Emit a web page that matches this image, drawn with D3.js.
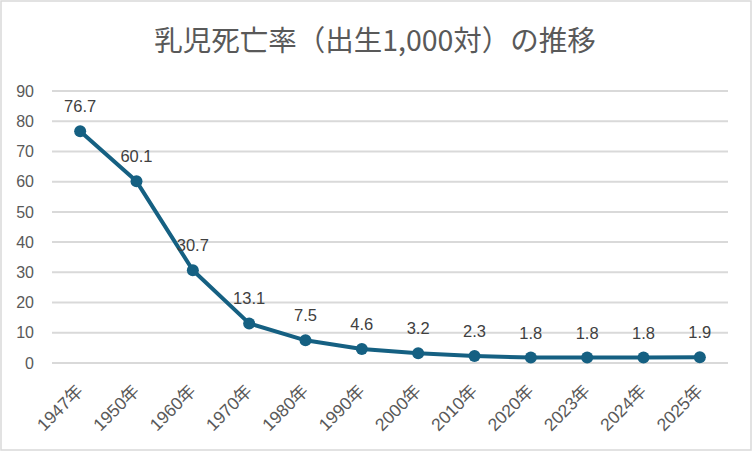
<!DOCTYPE html>
<html>
<head>
<meta charset="utf-8">
<script src="https://cdn.jsdelivr.net/npm/d3@7"></script>
<style>
  body { margin: 0; background: #fff; }
  svg { display: block; }
</style>
</head>
<body>
<div id="chart"></div>
<script>
// data
const years = ["1947年", "1950年", "1960年", "1970年", "1980年", "1990年",
  "2000年", "2010年", "2020年", "2023年", "2024年", "2025年"];
const rates = [76.7, 60.1, 30.7, 13.1, 7.5, 4.6, 3.2, 2.3, 1.8, 1.8, 1.8, 1.9];
const yTicks = [0, 10, 20, 30, 40, 50, 60, 70, 80, 90];
const title = "乳児死亡率（出生1,000対）の推移";

const width = 752;
const height = 451;
const margin = { top: 91, right: 24, bottom: 88, left: 52 };
const font = "'Liberation Sans', 'Noto Sans CJK JP', sans-serif";

const svg = d3.select("#chart")
  .append("svg")
  .attr("width", width)
  .attr("height", height);

// outer border
svg.append("rect")
  .attr("x", 1).attr("y", 1)
  .attr("width", width - 2).attr("height", height - 2)
  .attr("fill", "#fff")
  .attr("stroke", "#d9d9d9")
  .attr("stroke-width", 1.5);

const x = d3.scaleBand()
  .domain(years)
  .range([margin.left, width - margin.right]);

const y = d3.scaleLinear()
  .domain([0, 90])
  .range([height - margin.bottom, margin.top]);

// gridlines
svg.append("g")
  .selectAll("line")
  .data(yTicks)
  .enter()
  .append("line")
  .attr("x1", margin.left)
  .attr("x2", width - margin.right)
  .attr("y1", d => y(d))
  .attr("y2", d => y(d))
  .attr("stroke", "#d9d9d9")
  .attr("stroke-width", 2);

// y axis labels
const yAxis = svg.append("g")
  .attr("transform", `translate(${margin.left - 18},0)`)
  .call(d3.axisLeft(y).tickValues(yTicks).tickSize(0).tickPadding(0));
yAxis.select(".domain").remove();
yAxis.selectAll("text")
  .attr("fill", "#595959")
  .style("font-family", font)
  .style("font-size", "16px");

// x axis labels
const xAxis = svg.append("g")
  .attr("transform", `translate(0,${height - margin.bottom})`)
  .call(d3.axisBottom(x).tickSize(0).tickPadding(0));
xAxis.select(".domain").remove();
xAxis.selectAll("text")
  .attr("fill", "#595959")
  .attr("text-anchor", "end")
  .attr("dy", "0")
  .attr("transform", "translate(4,29) rotate(-45)")
  .style("font-family", font)
  .style("font-size", "17.5px");

const cx = d => x(d) + x.bandwidth() / 2;

// line
const line = d3.line()
  .x((d, i) => cx(years[i]))
  .y(d => y(d));

svg.append("path")
  .datum(rates)
  .attr("d", line)
  .attr("fill", "none")
  .attr("stroke", "#156082")
  .attr("stroke-width", 4)
  .attr("stroke-linejoin", "round");

// markers
svg.append("g")
  .selectAll("circle")
  .data(rates)
  .enter()
  .append("circle")
  .attr("cx", (d, i) => cx(years[i]))
  .attr("cy", d => y(d))
  .attr("r", 6)
  .attr("fill", "#156082");

// data labels
svg.append("g")
  .selectAll("text")
  .data(rates)
  .enter()
  .append("text")
  .attr("x", (d, i) => cx(years[i]))
  .attr("y", d => y(d) - 19)
  .attr("text-anchor", "middle")
  .attr("fill", "#404040")
  .style("font-family", font)
  .style("font-size", "16.5px")
  .text(d => d.toFixed(1));

// title
svg.append("text")
  .attr("x", 375)
  .attr("y", 51)
  .attr("text-anchor", "middle")
  .attr("fill", "#595959")
  .style("font-family", "'Noto Sans CJK JP', sans-serif")
  .style("font-size", "28.5px")
  .text(title);
</script>
</body>
</html>
